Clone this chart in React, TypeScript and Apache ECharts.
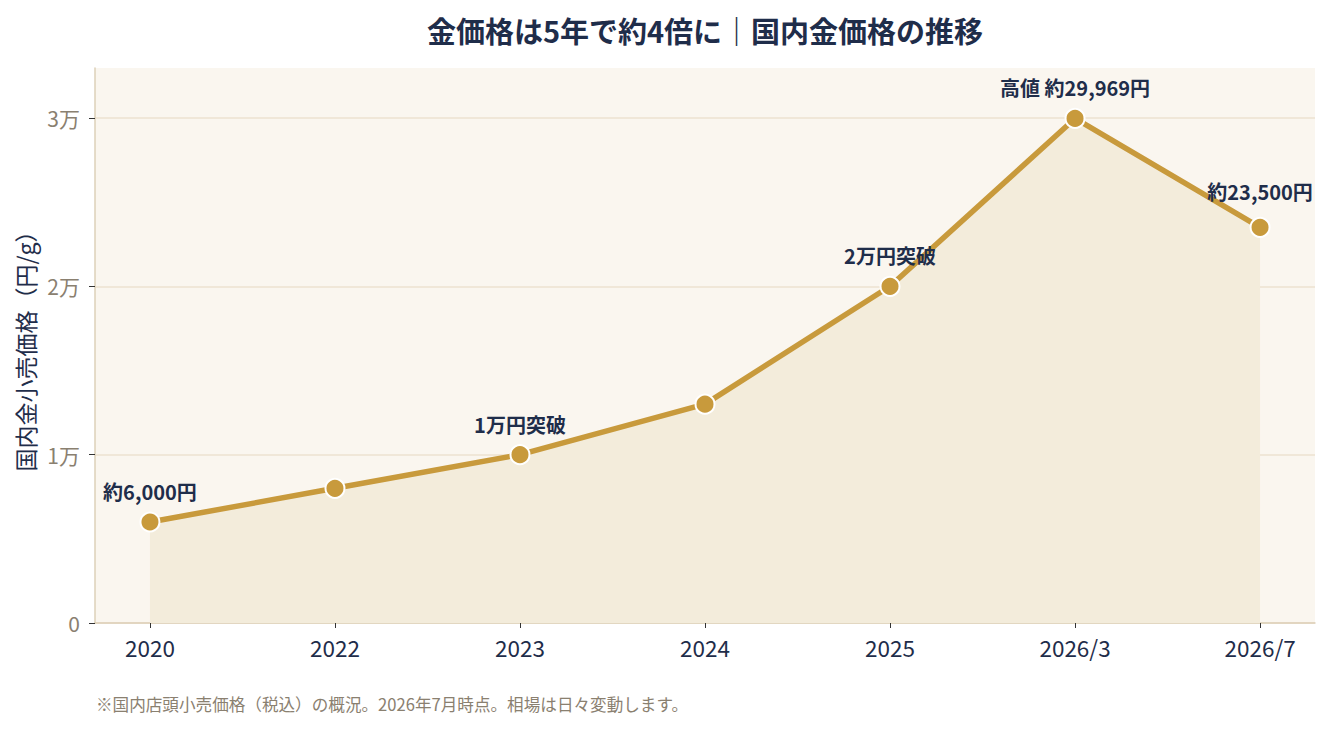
import React, { useEffect, useRef } from "react";
import * as echarts from "echarts";

const categories = ["2020", "2022", "2023", "2024", "2025", "2026/3", "2026/7"];
const prices = [6000, 8000, 10000, 13000, 20000, 29969, 23500];
const pointLabels = ["約6,000円", "", "1万円突破", "", "2万円突破", "高値 約29,969円", "約23,500円"];
const yTicks = [0, 10000, 20000, 30000];
const yTickLabels = ["0", "1万", "2万", "3万"];

const FONT = '"Noto Sans CJK JP", "Noto Sans", sans-serif';
const NAVY = "#1f2d4a";
const GOLD = "#c89a3c";

export default function App() {
  const ref = useRef<HTMLDivElement>(null);
  useEffect(() => {
    const chart = echarts.init(ref.current!, null, { renderer: "svg" });
    const idx = categories.map((_, i) => i);
    chart.setOption({
      animation: false,
      backgroundColor: "#ffffff",
      textStyle: { fontFamily: FONT },
      title: {
        text: "金価格は5年で約4倍に｜国内金価格の推移",
        left: 700,
        textAlign: "center",
        top: 10,
        textStyle: { fontFamily: FONT, fontSize: 29, fontWeight: "bold", color: NAVY },
      },
      graphic: [
        {
          type: "text",
          left: 96,
          top: 696,
          style: {
            text: "※国内店頭小売価格（税込）の概況。2026年7月時点。相場は日々変動します。",
            fontFamily: FONT,
            fontSize: 16.6,
            fill: "#8a8070",
          },
        },
      ],
      grid: {
        left: 95,
        right: 15,
        top: 68,
        bottom: 108,
        show: true,
        backgroundColor: "#faf6ef",
        borderWidth: 0,
      },
      xAxis: {
        type: "value",
        min: -0.297,
        max: 6.297,
        splitLine: { show: false },
        axisLine: { show: true, onZero: false, lineStyle: { color: "#ddd0b8", width: 1.5 } },
        axisTick: { show: true, customValues: idx, length: 5, lineStyle: { color: "#333333" } },
        axisLabel: {
          customValues: idx,
          formatter: (v: number) => categories[Math.round(v)] ?? "",
          color: NAVY,
          fontSize: 22.5,
          fontFamily: FONT,
          margin: 13,
        },
      },
      yAxis: {
        type: "value",
        min: 0,
        max: 32966,
        name: "国内金小売価格（円/g）",
        nameLocation: "middle",
        nameGap: 57,
        nameRotate: 90,
        nameTextStyle: { color: NAVY, fontSize: 23, fontFamily: FONT },
        splitLine: { show: true, lineStyle: { color: "#ece2d0", width: 1.5 } },
        axisLine: { show: true, onZero: false, lineStyle: { color: "#ddd0b8", width: 1.5 } },
        axisTick: { show: true, customValues: yTicks, length: 6, lineStyle: { color: "#333333" } },
        axisLabel: {
          customValues: yTicks,
          formatter: (v: number) => yTickLabels[yTicks.indexOf(v)] ?? "",
          color: "#8a8070",
          fontSize: 21,
          fontFamily: FONT,
          margin: 15,
        },
      },
      series: [
        {
          type: "line",
          data: prices.map((p, i) => ({
            value: [i, p],
            label: {
              show: pointLabels[i] !== "",
              formatter: pointLabels[i],
              offset: i === 6 ? [0, -5] : [0, 0],
            },
          })),
          symbol: "circle",
          symbolSize: 19,
          itemStyle: { color: GOLD, borderColor: "#ffffff", borderWidth: 2 },
          lineStyle: { color: GOLD, width: 5.5 },
          areaStyle: { color: "#f3ecdb", opacity: 1 },
          label: {
            position: "top",
            distance: 10,
            color: NAVY,
            fontSize: 20,
            fontWeight: "bold",
            fontFamily: FONT,
          },
          z: 3,
        },
      ],
    });
    return () => chart.dispose();
  }, []);
  return (
    <div
      ref={ref}
      style={{ position: "absolute", left: 0, top: 0, width: 1330, height: 731 }}
    />
  );
}
